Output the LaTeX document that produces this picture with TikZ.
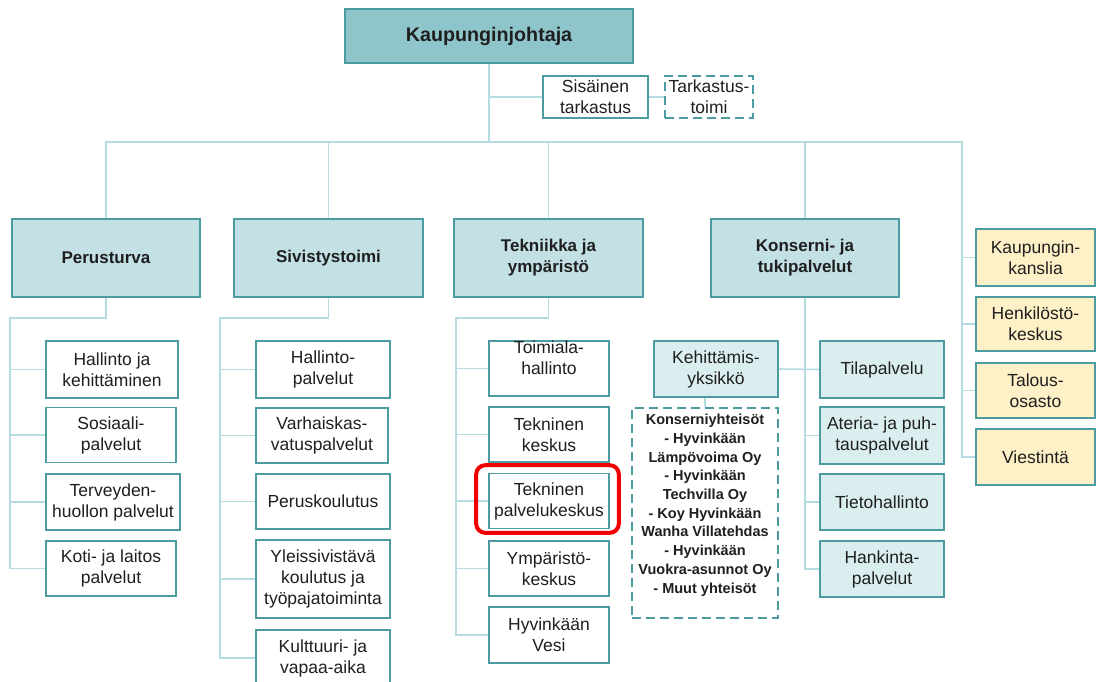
\documentclass[tikz,border=0pt]{standalone}
\usepackage{fontspec}
\setmainfont{Liberation Sans}
\definecolor{topC}{HTML}{8EC5CB}
\definecolor{lvlC}{HTML}{C3E0E4}
\definecolor{lightC}{HTML}{DAEDEF}
\definecolor{yelC}{HTML}{FEF0C7}
\definecolor{bordC}{HTML}{4B9BA0}
\definecolor{lineC}{HTML}{B5DCE1}
\definecolor{txtC}{HTML}{1F1F1F}
\definecolor{hlC}{HTML}{F00000}
\tikzset{
  conn/.style={draw=lineC, line width=1.6pt},
  bx/.style={draw=bordC, line width=1.6pt, inner sep=0pt, align=center, text=txtC,
    font=\fontsize{17.5}{21}\selectfont},
  leaf/.style={bx, fill=white},
  lvltwo/.style={bx, fill=lvlC, font=\bfseries\fontsize{17}{21}\selectfont},
  lightbox/.style={bx, fill=lightC},
  yelbox/.style={bx, fill=yelC},
  dashbox/.style={bx, fill=white, dash pattern=on 9pt off 5pt},
  hl/.style={draw=hlC, line width=4pt, rounded corners=9pt}
}
\begin{document}
\begin{tikzpicture}[x=1pt,y=-1pt]
\useasboundingbox (0,0) rectangle (1097,682);
\fill[white] (0,0) rectangle (1097,682);

% top
\node[bx, fill=topC, font=\bfseries\fontsize{19.7}{23}\selectfont, minimum width=288pt, minimum height=54pt] (kj) at (489,36) {Kaupunginjohtaja};
\node[leaf, minimum width=105pt, minimum height=42pt] (sis) at (595.5,97) {Sisäinen\\tarkastus};
\node[dashbox, minimum width=88pt, minimum height=42pt] (tt) at (709,97) {Tarkastus-\\toimi};

% level 2
\node[lvltwo, minimum width=188pt, minimum height=78pt] (per) at (106,258) {Perusturva};
\node[lvltwo, minimum width=189pt, minimum height=78pt] (siv) at (328.5,258) {Sivistystoimi};
\node[lvltwo, minimum width=189pt, minimum height=78pt] (tek) at (548.5,258) {Tekniikka ja\\ympäristö};
\node[lvltwo, minimum width=188pt, minimum height=78pt] (kon) at (805,258) {Konserni- ja\\tukipalvelut};

% yellow column
\node[yelbox, minimum width=119pt, minimum height=57pt] (y1) at (1035.5,257.5) {Kaupungin-\\kanslia};
\node[yelbox, minimum width=119pt, minimum height=54pt] (y2) at (1035.5,324) {Henkilöstö-\\keskus};
\node[yelbox, minimum width=119pt, minimum height=55pt] (y3) at (1035.5,390.5) {Talous-\\osasto};
\node[yelbox, minimum width=119pt, minimum height=56pt] (y4) at (1035.5,457) {Viestintä};

% Perusturva children
\node[leaf, minimum width=132pt, minimum height=57pt] (p1) at (112,369.5) {Hallinto ja\\kehittäminen};
\node[leaf, minimum width=130pt, minimum height=55pt] (p2) at (111,435) {Sosiaali-\\palvelut};
\node[leaf, minimum width=134pt, minimum height=56pt] (p3) at (113,502) {Terveyden-\\huollon palvelut};
\node[leaf, minimum width=130pt, minimum height=55pt] (p4) at (111,568.5) {Koti- ja laitos\\palvelut};

% Sivistystoimi children
\node[leaf, minimum width=134pt, minimum height=57pt] (s1) at (323,369.5) {Hallinto-\\palvelut};
\node[leaf, minimum width=132pt, minimum height=55pt] (s2) at (322,435.5) {Varhaiskas-\\vatuspalvelut};
\node[leaf, minimum width=134pt, minimum height=55pt] (s3) at (323,501.5) {Peruskoulutus};
\node[leaf, minimum width=134pt, minimum height=78pt] (s4) at (323,579) {Yleissivistävä\\koulutus ja\\työpajatoiminta};
\node[leaf, minimum width=134pt, minimum height=56pt] (s5) at (323,658) {Kulttuuri- ja\\vapaa-aika};

% Tekniikka children
\node[leaf, minimum width=120pt, minimum height=55pt] (t1) at (549,368.5) {Toimiala-\\hallinto\\\rule{0pt}{0pt}};
\node[leaf, minimum width=120pt, minimum height=55pt] (t2) at (549,434.5) {Tekninen\\keskus};
\node[leaf, minimum width=120pt, minimum height=55pt] (t3) at (549,501) {Tekninen\\palvelukeskus};
\node[leaf, minimum width=120pt, minimum height=55pt] (t4) at (549,568.5) {Ympäristö-\\keskus};
\node[leaf, minimum width=120pt, minimum height=56pt] (t5) at (549,635) {Hyvinkään\\Vesi};

% Konserni children
\node[lightbox, minimum width=124pt, minimum height=56pt] (keh) at (716,369) {Kehittämis-\\yksikkö};
\node[dashbox, minimum width=146pt, minimum height=210pt, font=\bfseries\fontsize{14.5}{18.7}\selectfont] (list) at (705,513)
  {Konserniyhteisöt\\- Hyvinkään\\Lämpövoima Oy\\- Hyvinkään\\Techvilla Oy\\- Koy Hyvinkään\\Wanha Villatehdas\\- Hyvinkään\\Vuokra-asunnot Oy\\- Muut yhteisöt\\\rule{0pt}{0pt}};
\node[lightbox, minimum width=124pt, minimum height=57pt] (k1) at (882,369.5) {Tilapalvelu};
\node[lightbox, minimum width=124pt, minimum height=57pt] (k2) at (882,435.5) {Ateria- ja puh-\\tauspalvelut};
\node[lightbox, minimum width=124pt, minimum height=56pt] (k3) at (882,502) {Tietohallinto};
\node[lightbox, minimum width=124pt, minimum height=56pt] (k4) at (882,569) {Hankinta-\\palvelut};

% bus coordinates
\coordinate (busM) at (489,142);
\coordinate (busL) at (106,142);
\coordinate (busR) at (962,142);
\coordinate (pbus) at (10,318);
\coordinate (sbus) at (220,318);
\coordinate (tbus) at (456,318);

% connectors
\draw[conn] (kj.south) -- (busM);
\draw[conn] (kj.south |- sis.west) -- (sis.west);
\draw[conn] (sis.east) -- (tt.west);
\draw[conn] (per.north) -- (busL) -- (busR) |- (y4.west);
\draw[conn] (siv.north) -- (siv.north |- busL);
\draw[conn] (tek.north) -- (tek.north |- busL);
\draw[conn] (kon.north) -- (kon.north |- busL);
\draw[conn] (busR |- y1.west) -- (y1.west);
\draw[conn] (busR |- y2.west) -- (y2.west);
\draw[conn] (busR |- y3.west) -- (y3.west);

\draw[conn] (per.south) |- (pbus) |- (p4.west);
\draw[conn] (pbus |- p1.west) -- (p1.west);
\draw[conn] (pbus |- p2.west) -- (p2.west);
\draw[conn] (pbus |- p3.west) -- (p3.west);

\draw[conn] (siv.south) |- (sbus) |- (s5.west);
\draw[conn] (sbus |- s1.west) -- (s1.west);
\draw[conn] (sbus |- s2.west) -- (s2.west);
\draw[conn] (sbus |- s3.west) -- (s3.west);
\draw[conn] (sbus |- s4.west) -- (s4.west);

\draw[conn] (tek.south) |- (tbus) |- (t5.west);
\draw[conn] (tbus |- t1.west) -- (t1.west);
\draw[conn] (tbus |- t2.west) -- (t2.west);
\draw[conn] (tbus |- t3.west) -- (t3.west);
\draw[conn] (tbus |- t4.west) -- (t4.west);

\draw[conn] (kon.south) |- (k4.west);
\draw[conn] (keh.east) -- (k1.west);
\draw[conn] (kon.south |- k2.west) -- (k2.west);
\draw[conn] (kon.south |- k3.west) -- (k3.west);
\draw[conn] (list.north) -- (list.north |- keh.south);

% highlight
\draw[hl] ([xshift=-12pt,yshift=7.5pt]t3.north west) rectangle ([xshift=9pt,yshift=-3.5pt]t3.south east);
\end{tikzpicture}
\end{document}
